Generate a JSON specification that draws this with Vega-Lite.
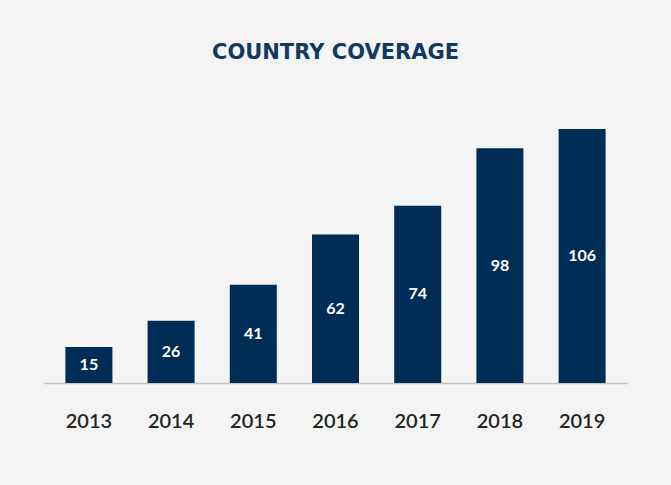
{
  "$schema": "https://vega.github.io/schema/vega-lite/v6.json",
  "autosize": "none",
  "width": 583,
  "height": 254,
  "padding": {"left": 44, "top": 129, "right": 44, "bottom": 102},
  "background": "#f4f4f4",
  "title": {
    "text": "COUNTRY COVERAGE",
    "font": "DejaVu Sans",
    "fontSize": 21,
    "fontWeight": "bold",
    "color": "#123a60",
    "anchor": "middle",
    "offset": 66
  },
  "data": {
    "values": [
      {"year": "2013", "countries": 15},
      {"year": "2014", "countries": 26},
      {"year": "2015", "countries": 41},
      {"year": "2016", "countries": 62},
      {"year": "2017", "countries": 74},
      {"year": "2018", "countries": 98},
      {"year": "2019", "countries": 106}
    ]
  },
  "encoding": {
    "x": {
      "field": "year",
      "type": "nominal",
      "scale": {"paddingInner": 0.428, "paddingOuter": 0.26},
      "axis": {
        "title": null,
        "labelAngle": 0,
        "ticks": false,
        "labelFont": "Lato",
        "labelFontSize": 20,
        "labelFontWeight": 600,
        "labelColor": "#222622",
        "labelPadding": 28,
        "domainColor": "#c4c4c4",
        "domainWidth": 1.5
      }
    }
  },
  "layer": [
    {
      "mark": {"type": "bar", "color": "#002d56"},
      "encoding": {
        "y": {
          "field": "countries",
          "type": "quantitative",
          "scale": {"domain": [0, 106], "nice": false},
          "axis": null
        }
      }
    },
    {
      "mark": {
        "type": "text",
        "color": "white",
        "font": "Lato",
        "fontSize": 16,
        "fontWeight": "bold",
        "baseline": "middle"
      },
      "encoding": {
        "y": {
          "field": "countries",
          "type": "quantitative",
          "scale": {"domain": [0, 212], "nice": false},
          "axis": null
        },
        "text": {"field": "countries", "type": "quantitative"}
      }
    }
  ],
  "resolve": {"scale": {"y": "independent"}},
  "config": {"view": {"stroke": null}}
}
